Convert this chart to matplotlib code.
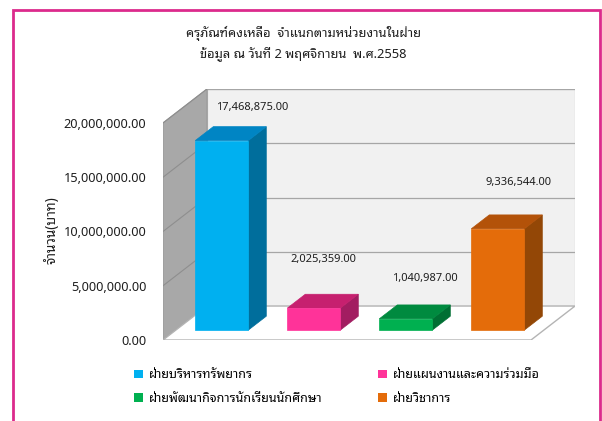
import matplotlib
matplotlib.use("Agg")
import matplotlib.pyplot as plt
from matplotlib.patches import Polygon, Patch, Rectangle

# ---- data ----
departments = ["ฝ่ายบริหารทรัพยากร", "ฝ่ายแผนงานและความร่วมมือ",
               "ฝ่ายพัฒนากิจการนักเรียนนักศึกษา", "ฝ่ายวิชาการ"]
amounts = [17468875.00, 2025359.00, 1040987.00, 9336544.00]
yticks = [0, 5000000, 10000000, 15000000, 20000000]
title = "ครุภัณฑ์คงเหลือ  จำแนกตามหน่วยงานในฝ่าย\nข้อมูล ณ วันที่ 2 พฤศจิกายน  พ.ศ.2558"
ylabel = "จำนวน(บาท)"

# ---- style ----
front_cols = ["#00B0F0", "#FF3399", "#00B050", "#E46C0A"]
top_cols = ["#0085C4", "#C6206F", "#008A3F", "#B35209"]
side_cols = ["#006E9C", "#A21D61", "#006F33", "#934706"]
lbl_off = [(9, 14), (-6, 25), (1, 19), (2, 23)]   # label offsets (points)

thai = ["Tahoma", "Noto Sans Thai Looped", "IBM Plex Sans Thai Looped",
        "Noto Sans Thai", "Sarabun", "DejaVu Sans"]
num = ["Tahoma", "Noto Sans", "DejaVu Sans"]

# oblique 3d projection: depth z in [0,1]
DX = 0.478          # category units
DY = 3.13e6         # value units
W = 0.576           # bar width
Z0, Z1 = 0.29, 0.70 # bar depth


def proj(x, v, z):
    return (x + z * DX, v + z * DY)


fig = plt.figure(figsize=(6.02, 4.21), dpi=100)
ax = fig.add_axes([163 / 602, 81 / 421, 412 / 602, 251 / 421])
ax.set_xlim(-0.5, 3.5 + DX)
ax.set_ylim(0, yticks[-1] + DY)
ax.patch.set_visible(False)
for s in ax.spines.values():
    s.set_visible(False)
ax.set_xticks([])
ax.set_yticks(yticks)
ax.set_yticklabels(["{:,.2f}".format(t) for t in yticks], family=num, fontsize=9.2, color="#1E1E1E")
ax.tick_params(axis="y", length=0, pad=12)

xl, xr = -0.5, len(amounts) - 0.5
ymax = yticks[-1]

# walls
side = [proj(xl, 0, 0), proj(xl, 0, 1), proj(xl, ymax, 1), proj(xl, ymax, 0)]
ax.add_patch(Polygon(side, closed=True, fc="#A8A8A8", ec="#9A9A9A", lw=0.8, zorder=1))
back = [proj(xl, 0, 1), proj(xr, 0, 1), proj(xr, ymax, 1), proj(xl, ymax, 1)]
ax.add_patch(Polygon(back, closed=True, fc="#F1F1F1", ec="#A6A6A6", lw=0.8, zorder=1))
floor = [proj(xl, 0, 0), proj(xr, 0, 0), proj(xr, 0, 1), proj(xl, 0, 1)]
ax.add_patch(Polygon(floor, closed=True, fc="white", ec="#B4B4B4", lw=1.0, zorder=2))

for t in yticks[1:]:
    a, b = proj(xl, t, 1), proj(xr, t, 1)
    ax.plot([a[0], b[0]], [a[1], b[1]], color="#A6A6A6", lw=0.9, zorder=2)
    c = proj(xl, t, 0)
    ax.plot([c[0], a[0]], [c[1], a[1]], color="#8E8E8E", lw=0.8, zorder=2)

# bars
for i, v in enumerate(amounts):
    l, r = i - W / 2, i + W / 2
    sidef = [proj(r, 0, Z0), proj(r, 0, Z1), proj(r, v, Z1), proj(r, v, Z0)]
    topf = [proj(l, v, Z0), proj(r, v, Z0), proj(r, v, Z1), proj(l, v, Z1)]
    frontf = [proj(l, 0, Z0), proj(r, 0, Z0), proj(r, v, Z0), proj(l, v, Z0)]
    ax.add_patch(Polygon(sidef, closed=True, fc=side_cols[i], ec=side_cols[i], lw=0.5, zorder=3))
    ax.add_patch(Polygon(topf, closed=True, fc=top_cols[i], ec=top_cols[i], lw=0.5, zorder=3))
    ax.add_patch(Polygon(frontf, closed=True, fc=front_cols[i], ec=front_cols[i], lw=0.5, zorder=4))
    ax.annotate("{:,.2f}".format(v), xy=proj(i, v, Z1), xytext=lbl_off[i],
                textcoords="offset points", ha="center", va="center",
                family=num, fontsize=8, color="#1E1E1E", zorder=5)

# titles
fig.text(303 / 602, 1 - 44 / 421, title, ha="center", va="center",
         family=thai, fontsize=9.3, color="#1E1E1E", linespacing=1.6)
fig.text(52 / 602, 1 - 230 / 421, ylabel, rotation=90, ha="center", va="center",
         family=thai, fontsize=9.8, color="#1E1E1E")

# legend: row-major order in two columns
handles = [Patch(fc=front_cols[k], ec="none", label=departments[k]) for k in (0, 2, 1, 3)]
fig.legend(handles=handles, ncol=2, loc="upper left", bbox_to_anchor=(128 / 602, 1 - 362 / 421),
           frameon=False, prop={"family": thai, "size": 9}, handlelength=0.7, handleheight=0.7,
           handletextpad=0.5, columnspacing=4.4, labelspacing=0.85, borderpad=0)

# pink frame
fig.patches.append(Rectangle((13 / 602, -0.05), 587 / 602, 1 - 10 / 421 + 0.05,
                             transform=fig.transFigure, fill=False, ec="#DC2A8C", lw=2))

fig.savefig("out.png", dpi=100)
